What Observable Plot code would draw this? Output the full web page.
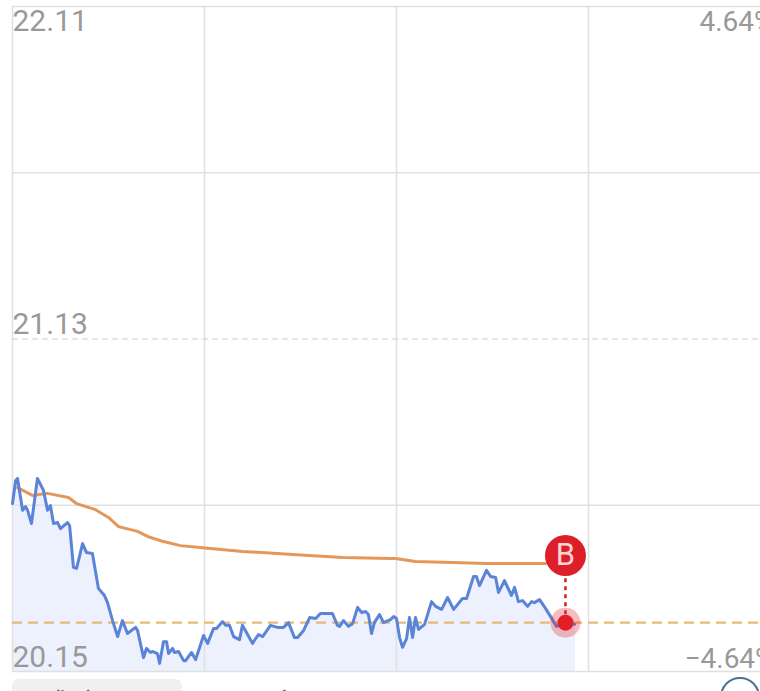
<!DOCTYPE html>
<html><head><meta charset="utf-8">
<script src="https://cdn.jsdelivr.net/npm/d3@7"></script>
<script src="https://cdn.jsdelivr.net/npm/@observablehq/plot@0.6"></script>
<style>
html,body{margin:0;padding:0;background:#fff;overflow:hidden;width:760px;height:691px}
#wrap{position:relative;width:760px;height:691px;overflow:hidden}
#tab{position:absolute;left:12px;top:679px;width:170px;height:40px;background:#f0f0f0;border-radius:7px}
.foot{position:absolute;top:684px;font:28px "Noto Sans CJK SC";line-height:36px;color:#666}
#ring{position:absolute;left:720px;top:677px;width:40px;height:40px;border:2.5px solid #4a7396;border-radius:50%;box-sizing:border-box}
</style></head><body>
<div id="wrap"><div id="chart"></div><div id="tab"></div>
<div class="foot" style="left:42px;letter-spacing:5px">成交图</div>
<div class="foot" style="left:211px">图</div><div class="foot" style="left:271px">文</div>
<div id="ring"></div></div>
<script>
const priceMinutes=[0,1.3,2.1,4.2,5.4,6.3,7.9,10.4,12.9,14.6,15.8,17.1,18.8,20,22.9,23.8,25.4,26.7,29.2,30.8,33.3,35.8,38.3,39.6,41.7,43.8,45.8,47.9,51.3,52.1,54.6,55.8,57.5,58.3,60.4,61.3,62.9,64.2,65,66.7,67.5,69.2,71.3,72.1,74.6,76.3,79.6,81.3,83.8,85,87.5,88.8,90.4,92.1,94.6,95.8,100,102.5,104.2,107.5,110.4,112.9,115,117.5,118.8,121.3,123.8,126.3,128.3,133.3,135.4,136.3,137.9,140,141.7,143.8,145.4,147.1,148.3,149.6,150.8,152.9,154.6,157.5,158.8,160,161.3,162.5,164.2,165.4,166.7,167.9,169.2,171.7,174.6,176.3,178.8,181.3,183.8,187.5,189.2,192.1,193.3,194.6,197.5,199.2,201.3,202.5,205,207.9,209.2,210.8,212.5,214.6,216.3,217.5,219.6,222.1,226.7,230.4,234.2];
const prices=[20.645,20.713,20.719,20.625,20.636,20.625,20.586,20.719,20.684,20.625,20.639,20.586,20.589,20.571,20.589,20.580,20.457,20.454,20.527,20.501,20.498,20.395,20.374,20.353,20.300,20.253,20.300,20.262,20.280,20.271,20.191,20.218,20.206,20.209,20.203,20.174,20.238,20.238,20.203,20.218,20.206,20.209,20.182,20.182,20.206,20.185,20.256,20.233,20.277,20.277,20.297,20.286,20.286,20.253,20.244,20.286,20.233,20.259,20.253,20.286,20.280,20.280,20.294,20.250,20.250,20.271,20.309,20.306,20.321,20.321,20.286,20.283,20.300,20.283,20.291,20.339,20.324,20.327,20.318,20.262,20.294,20.318,20.294,20.303,20.312,20.306,20.250,20.221,20.247,20.309,20.250,20.309,20.274,20.289,20.356,20.342,20.333,20.368,20.333,20.365,20.365,20.430,20.430,20.403,20.448,20.430,20.427,20.383,20.418,20.374,20.398,20.356,20.359,20.342,20.356,20.353,20.362,20.336,20.283,20.291,20.289];
const avgMinutes=[2.1,8.3,14.6,23.3,26.7,34.6,40,44.2,52.1,56.3,62.9,70,79.2,95.8,116.7,137.5,157.5,159.6,167.9,183.3,197.1,222.1];
const avgPrices=[20.692,20.669,20.675,20.663,20.645,20.627,20.604,20.577,20.563,20.548,20.533,20.521,20.515,20.504,20.495,20.486,20.483,20.483,20.474,20.471,20.468,20.468];
const priceTicks=[22.11,21.62,21.13,20.64,20.15];
const minuteTicks=[0,80,160,240];
const leftLabels=["22.11","21.13","20.15"];
const leftValues=[22.11,21.13,20.15];
const rightLabels=["4.64%","\u22124.64%"];
const rightValues=[22.11,20.15];
const refPrice=20.294;
const tradeMinute=230.4, tradeBadge=20.492;
const xEdge=311.67;

const series=priceMinutes.map((m,i)=>({m,p:prices[i]}));
const avg=avgMinutes.map((m,i)=>({m,p:avgPrices[i]}));
const solid=priceTicks.filter(v=>v!==21.13);

const chart=Plot.plot({
  width:760,height:691,marginLeft:12,marginRight:172,marginTop:6,marginBottom:20,
  style:{background:"transparent",fontFamily:"Roboto"},
  x:{domain:[0,240],axis:null},
  y:{domain:[20.15,22.11],axis:null},
  marks:[
    Plot.areaY(series.concat([{m:234.6,p:20.289}]),{x:"m",y1:20.15,y2:"p",fill:"#ecf1fd"}),
    Plot.ruleX(minuteTicks,{x:d=>d,y1:20.15,y2:22.11,stroke:"#e0e0e0",strokeWidth:1.5}),
    Plot.ruleY(solid,{y:d=>d,x1:0,x2:xEdge,stroke:"#e0e0e0",strokeWidth:1.5}),
    Plot.ruleY([21.13],{y:d=>d,x1:0,x2:xEdge,stroke:"#cfcfcf",strokeWidth:1.2,strokeDasharray:"6,4"}),
    Plot.ruleY([refPrice],{y:d=>d,x1:0,x2:xEdge,stroke:"#e3bb78",strokeWidth:2.2,strokeDasharray:"10,6"}),
    Plot.line(avg,{x:"m",y:"p",stroke:"#e4975a",strokeWidth:3,curve:"linear"}),
    Plot.line(series,{x:"m",y:"p",stroke:"#5b83d8",strokeWidth:3,curve:"linear"}),
    Plot.text(leftLabels,{x:0,y:(d,i)=>leftValues[i],text:d=>d,textAnchor:"start",lineAnchor:"bottom",fontSize:30,fill:"#999",dy:-5,filter:(d,i)=>i===1}),
    Plot.text(leftLabels,{x:0,y:(d,i)=>leftValues[i],text:d=>d,textAnchor:"start",lineAnchor:"top",fontSize:30,fill:"#999",dy:3,filter:(d,i)=>i===0}),
    Plot.text(leftLabels,{x:0,y:(d,i)=>leftValues[i],text:d=>d,textAnchor:"start",lineAnchor:"bottom",fontSize:30,fill:"#999",dy:-5,filter:(d,i)=>i===2}),
    Plot.text(rightLabels,{x:240,y:(d,i)=>rightValues[i],text:d=>d,textAnchor:"start",lineAnchor:"top",fontSize:28,fill:"#999",dx:111,dy:5,filter:(d,i)=>i===0}),
    Plot.text(rightLabels,{x:240,y:(d,i)=>rightValues[i],text:d=>d,textAnchor:"start",lineAnchor:"bottom",fontSize:28,fill:"#999",dx:96,dy:-4,filter:(d,i)=>i===1}),
    Plot.dot([tradeMinute],{x:d=>d,y:refPrice,r:15,fill:"#e0202a",fillOpacity:0.3}),
    Plot.ruleX([tradeMinute],{x:d=>d,y1:refPrice,y2:tradeBadge,stroke:"#d0202a",strokeWidth:2.5,strokeDasharray:"4,4"}),
    Plot.dot([tradeMinute],{x:d=>d,y:refPrice,r:8,fill:"#e31e26"}),
    Plot.dot([tradeMinute],{x:d=>d,y:tradeBadge,r:20.5,fill:"#dc1f28"}),
    Plot.text(["B"],{x:tradeMinute,y:tradeBadge,text:d=>d,fontSize:31,fill:"#fbd5d5",fontFamily:"Roboto"})
  ]
});
document.getElementById("chart").appendChild(chart);
</script></body></html>
